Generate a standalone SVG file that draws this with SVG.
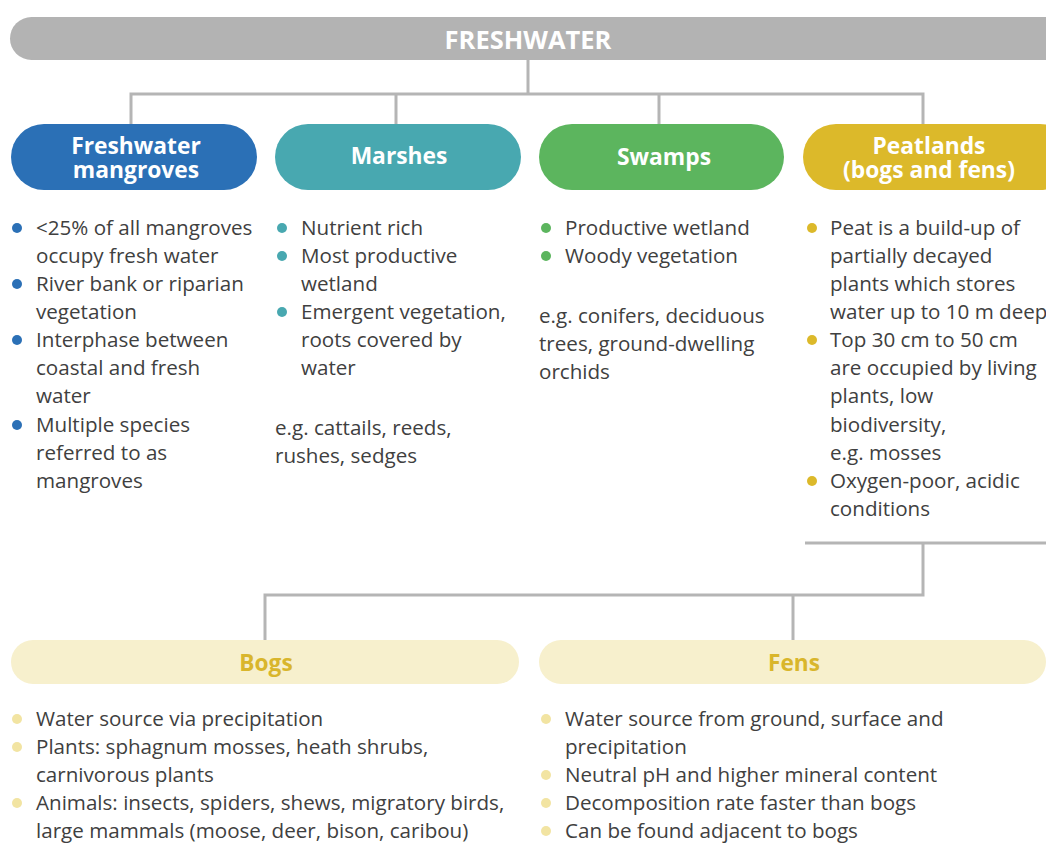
<svg xmlns="http://www.w3.org/2000/svg" width="1046" height="859" viewBox="0 0 1046 859">
<style>
.conn{fill:none;stroke:#b5b5b5;stroke-width:3}
.h{font-family:"Open Sans","Liberation Sans",sans-serif;font-weight:bold;font-size:22.8px;fill:#ffffff;text-anchor:middle}
.t{font-family:"Open Sans","Liberation Sans",sans-serif;font-size:20.6px;fill:#404040}
.sh{font-family:"Open Sans","Liberation Sans",sans-serif;font-weight:bold;font-size:22.7px;fill:#d9b62c;text-anchor:middle}
</style>
<rect width="1046" height="859" fill="#ffffff"/>
<g id="connectors">
<path class="conn" d="M528 60V94M131 124V94H923V124M396 94V124M659 94V124"/>
<path class="conn" d="M805 543H1046M923 543V595H265V640M793 595V640"/>
</g>
<g id="freshwater">
<rect x="10" y="17" width="1058" height="43" rx="21.5" fill="#b3b3b3"/>
<text class="h" x="528" y="49" style="font-size:25.5px">FRESHWATER</text>
</g>
<g id="mangroves">
<rect x="11" y="124" width="246" height="66" rx="33" fill="#2b70b6"/>
<text class="h" x="136"><tspan x="136" y="154">Freshwater</tspan><tspan x="136" y="178">mangroves</tspan></text>
<g fill="#2b70b6"><circle cx="17" cy="228" r="5"/><circle cx="17" cy="284" r="5"/><circle cx="17" cy="340" r="5"/><circle cx="17" cy="425" r="5"/></g>
<text class="t" x="36" y="235">&lt;25% of all mangroves</text>
<text class="t" x="36" y="263">occupy fresh water</text>
<text class="t" x="36" y="291">River bank or riparian</text>
<text class="t" x="36" y="319">vegetation</text>
<text class="t" x="36" y="347">Interphase between</text>
<text class="t" x="36" y="375">coastal and fresh</text>
<text class="t" x="36" y="403">water</text>
<text class="t" x="36" y="432">Multiple species</text>
<text class="t" x="36" y="460">referred to as</text>
<text class="t" x="36" y="488">mangroves</text>
</g>
<g id="marshes">
<rect x="275" y="124" width="246" height="66" rx="33" fill="#48a8b0"/>
<text class="h" x="399" y="164">Marshes</text>
<g fill="#48a8b0"><circle cx="282" cy="228" r="5"/><circle cx="282" cy="256" r="5"/><circle cx="282" cy="312" r="5"/></g>
<text class="t" x="301" y="235">Nutrient rich</text>
<text class="t" x="301" y="263">Most productive</text>
<text class="t" x="301" y="291">wetland</text>
<text class="t" x="301" y="319">Emergent vegetation,</text>
<text class="t" x="301" y="347">roots covered by</text>
<text class="t" x="301" y="375">water</text>
<text class="t" x="275" y="435">e.g. cattails, reeds,</text>
<text class="t" x="275" y="463">rushes, sedges</text>
</g>
<g id="swamps">
<rect x="539" y="124" width="245" height="66" rx="33" fill="#5cb55e"/>
<text class="h" x="664" y="165">Swamps</text>
<g fill="#5cb55e"><circle cx="546" cy="228" r="5"/><circle cx="546" cy="256" r="5"/></g>
<text class="t" x="565" y="235">Productive wetland</text>
<text class="t" x="565" y="263">Woody vegetation</text>
<text class="t" x="539" y="323">e.g. conifers, deciduous</text>
<text class="t" x="539" y="351">trees, ground-dwelling</text>
<text class="t" x="539" y="379">orchids</text>
</g>
<g id="peatlands">
<rect x="803" y="124" width="270" height="66" rx="33" fill="#dcb92a"/>
<text class="h" x="929"><tspan x="929" y="154">Peatlands</tspan><tspan x="929" y="178">(bogs and fens)</tspan></text>
<g fill="#dcb92a"><circle cx="812" cy="228" r="5"/><circle cx="812" cy="340" r="5"/><circle cx="812" cy="481" r="5"/></g>
<text class="t" x="830" y="235">Peat is a build-up of</text>
<text class="t" x="830" y="263">partially decayed</text>
<text class="t" x="830" y="291">plants which stores</text>
<text class="t" x="830" y="319">water up to 10 m deep</text>
<text class="t" x="830" y="347">Top 30 cm to 50 cm</text>
<text class="t" x="830" y="375">are occupied by living</text>
<text class="t" x="830" y="403">plants, low</text>
<text class="t" x="830" y="432">biodiversity,</text>
<text class="t" x="830" y="460">e.g. mosses</text>
<text class="t" x="830" y="488">Oxygen-poor, acidic</text>
<text class="t" x="830" y="516">conditions</text>
</g>
<g id="bogs">
<rect x="11" y="640" width="508" height="44" rx="22" fill="#f7f0cd"/>
<text class="sh" x="266" y="671">Bogs</text>
<g fill="#f2e4a2"><circle cx="17" cy="719" r="5"/><circle cx="17" cy="747" r="5"/><circle cx="17" cy="803" r="5"/></g>
<text class="t" x="36" y="726">Water source via precipitation</text>
<text class="t" x="36" y="754">Plants: sphagnum mosses, heath shrubs,</text>
<text class="t" x="36" y="782">carnivorous plants</text>
<text class="t" x="36" y="810">Animals: insects, spiders, shews, migratory birds,</text>
<text class="t" x="36" y="838">large mammals (moose, deer, bison, caribou)</text>
</g>
<g id="fens">
<rect x="539" y="640" width="507" height="44" rx="22" fill="#f7f0cd"/>
<text class="sh" x="794" y="671">Fens</text>
<g fill="#f2e4a2"><circle cx="546" cy="719" r="5"/><circle cx="546" cy="775" r="5"/><circle cx="546" cy="803" r="5"/><circle cx="546" cy="831" r="5"/></g>
<text class="t" x="565" y="726">Water source from ground, surface and</text>
<text class="t" x="565" y="754">precipitation</text>
<text class="t" x="565" y="782">Neutral pH and higher mineral content</text>
<text class="t" x="565" y="810">Decomposition rate faster than bogs</text>
<text class="t" x="565" y="838">Can be found adjacent to bogs</text>
</g>
</svg>
